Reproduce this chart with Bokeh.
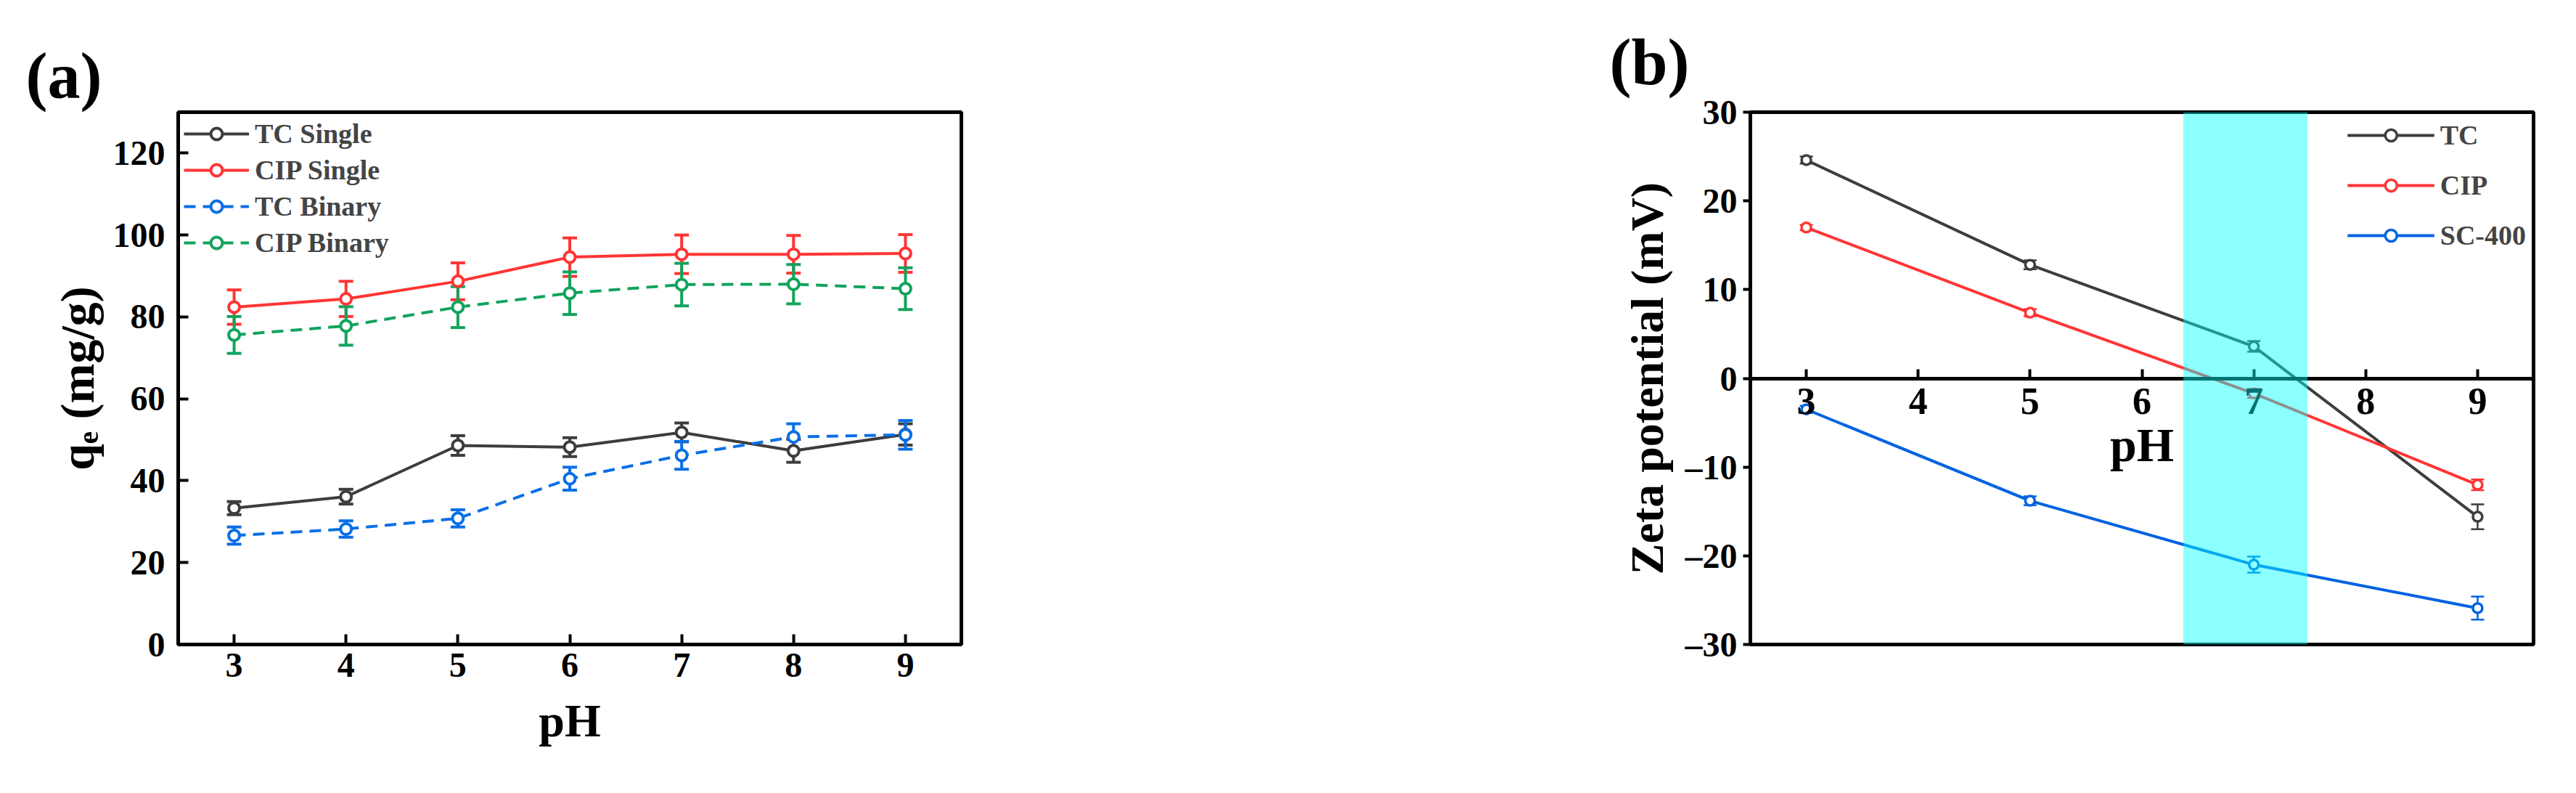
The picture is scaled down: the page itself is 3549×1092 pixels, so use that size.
from bokeh.plotting import figure
from bokeh.models import (Range1d, FixedTicker, Whisker, TeeHead, ColumnDataSource,
                          BoxAnnotation, Title)
from bokeh.layouts import row
from bokeh.embed import file_html
from bokeh.resources import INLINE

# ---------------- data: panel (a) ----------------
ph_a = [3, 4, 5, 6, 7, 8, 9]
tc_single = [33.3, 36.1, 48.6, 48.2, 51.8, 47.3, 51.3]
tc_single_err = [1.6, 1.8, 2.4, 2.3, 2.3, 2.8, 2.6]
cip_single = [82.4, 84.4, 88.7, 94.6, 95.3, 95.3, 95.5]
cip_single_err = [4.2, 4.3, 4.5, 4.7, 4.7, 4.6, 4.6]
tc_binary = [26.6, 28.2, 30.8, 40.5, 46.2, 50.7, 51.2]
tc_binary_err = [2.1, 2.0, 2.1, 2.8, 3.4, 3.2, 3.5]
cip_binary = [75.6, 77.8, 82.4, 85.8, 87.9, 88.0, 86.9]
cip_binary_err = [4.5, 4.7, 5.0, 5.2, 5.2, 4.8, 5.1]
a_xticks = [3, 4, 5, 6, 7, 8, 9]
a_xlabels = ["3", "4", "5", "6", "7", "8", "9"]
a_yticks = [0, 20, 40, 60, 80, 100, 120]
a_ylabels = ["0", "20", "40", "60", "80", "100", "120"]

# ---------------- data: panel (b) ----------------
ph_b = [3, 5, 7, 9]
zeta_tc = [24.6, 12.8, 3.6, -15.6]
zeta_tc_err = [0.4, 0.5, 0.6, 1.4]
zeta_cip = [17.0, 7.4, -1.7, -12.0]
zeta_cip_err = [0.3, 0.4, 0.5, 0.6]
zeta_sc = [-3.5, -13.8, -21.0, -25.9]
zeta_sc_err = [0.4, 0.5, 0.9, 1.3]
band_ph = [6.37, 7.48]
b_xticks = [3, 4, 5, 6, 7, 8, 9]
b_xlabels = ["3", "4", "5", "6", "7", "8", "9"]
b_yticks = [-30, -20, -10, 0, 10, 20, 30]
b_ylabels = ["\u201330", "\u201320", "\u201310", "0", "10", "20", "30"]

FONT = "Liberation Serif"
C_TC = "#3d3d3d"
C_CIP = "#ff3535"
C_TCB = "#0a6fe6"
C_CIPB = "#12a35c"
C_SC = "#0063e0"


def base_style(p):
    p.xgrid.visible = False
    p.ygrid.visible = False
    p.outline_line_color = "black"
    p.outline_line_width = 5
    p.outline_line_alpha = 1
    p.background_fill_color = "white"
    p.border_fill_color = "white"
    for ax in (p.xaxis[0], p.yaxis[0]):
        ax.axis_line_width = 5
        ax.axis_line_color = "black"
        ax.major_tick_line_width = 4
        ax.major_tick_line_color = "black"
        ax.minor_tick_line_color = None
        ax.major_label_text_font = FONT
        ax.major_label_text_font_style = "bold"
        ax.major_label_text_color = "black"
        ax.axis_label_text_font = FONT
        ax.axis_label_text_font_style = "bold"
        ax.axis_label_text_color = "black"


def add_err(p, x, y, e, color, lw, head):
    src = ColumnDataSource(dict(x=x, up=[v + d for v, d in zip(y, e)],
                                lo=[v - d for v, d in zip(y, e)]))
    w = Whisker(source=src, base="x", upper="up", lower="lo", dimension="height",
                line_color=color, line_width=lw,
                upper_head=TeeHead(size=head, line_color=color, line_width=lw),
                lower_head=TeeHead(size=head, line_color=color, line_width=lw))
    p.add_layout(w)


def panel_title(text, offset, standoff):
    return Title(text=text, align="left", offset=offset, standoff=standoff,
                 text_font=FONT, text_font_style="bold", text_font_size="90px",
                 text_color="black")


# ---------------- panel (a) ----------------
pa = figure(width=1424, height=1067, x_range=Range1d(2.5, 9.5), y_range=Range1d(0, 130),
            output_backend="svg", toolbar_location=None,
            title=panel_title("(a)", -210, 2),
            min_border_left=245, min_border_right=100, min_border_top=115, min_border_bottom=180)
base_style(pa)
pa.xaxis.ticker = FixedTicker(ticks=a_xticks)
pa.xaxis.major_label_overrides = dict(zip(a_xticks, a_xlabels))
pa.yaxis.ticker = FixedTicker(ticks=a_yticks)
pa.yaxis.major_label_overrides = dict(zip(a_yticks, a_ylabels))
pa.xaxis.major_tick_in = 14
pa.xaxis.major_tick_out = 0
pa.yaxis.major_tick_in = 14
pa.yaxis.major_tick_out = 0
pa.xaxis.major_label_text_font_size = "48px"
pa.yaxis.major_label_text_font_size = "48px"
pa.xaxis.major_label_standoff = 12
pa.yaxis.major_label_standoff = 18
pa.xaxis.axis_label = "pH"
pa.yaxis.axis_label = "q\u2091 (mg/g)"
pa.xaxis.axis_label_text_font_size = "64px"
pa.yaxis.axis_label_text_font_size = "66px"
pa.xaxis.axis_label_standoff = 22
pa.yaxis.axis_label_standoff = 10

series_a = [
    (tc_single, tc_single_err, C_TC, "solid", "TC Single"),
    (cip_single, cip_single_err, C_CIP, "solid", "CIP Single"),
    (tc_binary, tc_binary_err, C_TCB, "16 10", "TC Binary"),
    (cip_binary, cip_binary_err, C_CIPB, "16 10", "CIP Binary"),
]
for ys, es, col, dash, name in series_a:
    add_err(pa, ph_a, ys, es, col, 4, 20)
for ys, es, col, dash, name in series_a:
    pa.line(ph_a, ys, line_color=col, line_width=4, line_dash=dash, legend_label=name)
    pa.scatter(ph_a, ys, marker="circle", size=15, fill_color="white", line_color=col,
               line_width=4, legend_label=name)

lg = pa.legend[0]
lg.location = "top_left"
lg.border_line_alpha = 0
lg.background_fill_alpha = 0
lg.label_text_font = FONT
lg.label_text_font_style = "bold"
lg.label_text_font_size = "38px"
lg.glyph_width = 90
lg.glyph_height = 40
lg.label_height = 40
lg.spacing = 6
lg.padding = 8
lg.margin = 0
lg.label_standoff = 8

# ---------------- panel (b) ----------------
pb = figure(width=2106, height=1067, x_range=Range1d(2.5, 9.5), y_range=Range1d(-30, 30),
            output_backend="svg", toolbar_location=None,
            title=panel_title("(b)", -194, 40),
            min_border_left=987, min_border_right=40, min_border_top=154, min_border_bottom=151)
base_style(pb)
pb.xaxis.fixed_location = 0
pb.xaxis.ticker = FixedTicker(ticks=b_xticks)
pb.xaxis.major_label_overrides = dict(zip(b_xticks, b_xlabels))
pb.yaxis.ticker = FixedTicker(ticks=b_yticks)
pb.yaxis.major_label_overrides = dict(zip(b_yticks, b_ylabels))
pb.xaxis.major_tick_in = 13
pb.xaxis.major_tick_out = 0
pb.yaxis.major_tick_in = 0
pb.yaxis.major_tick_out = 10
pb.xaxis.major_label_text_font_size = "52px"
pb.yaxis.major_label_text_font_size = "48px"
pb.xaxis.major_label_standoff = 14
pb.yaxis.major_label_standoff = 8
pb.xaxis.axis_label = "pH"
pb.yaxis.axis_label = "Zeta potential (mV)"
pb.xaxis.axis_label_text_font_size = "66px"
pb.yaxis.axis_label_text_font_size = "64px"
pb.xaxis.axis_label_standoff = 2
pb.yaxis.axis_label_standoff = 14

series_b = [
    (zeta_tc, zeta_tc_err, C_TC, "TC"),
    (zeta_cip, zeta_cip_err, C_CIP, "CIP"),
    (zeta_sc, zeta_sc_err, C_SC, "SC-400"),
]
for ys, es, col, name in series_b:
    add_err(pb, ph_b, ys, es, col, 2.5, 18)
for ys, es, col, name in series_b:
    pb.line(ph_b, ys, line_color=col, line_width=4, legend_label=name)
    pb.scatter(ph_b, ys, marker="circle", size=13, fill_color="white", line_color=col,
               line_width=3.5, legend_label=name)

pb.add_layout(BoxAnnotation(left=band_ph[0], right=band_ph[1], fill_color="#00ffff",
                            fill_alpha=0.45, line_color=None))

lb = pb.legend[0]
lb.location = "top_right"
lb.border_line_alpha = 0
lb.background_fill_alpha = 0
lb.label_text_font = FONT
lb.label_text_font_style = "bold"
lb.label_text_font_size = "38px"
lb.glyph_width = 120
lb.glyph_height = 40
lb.label_height = 40
lb.spacing = 25
lb.padding = 10
lb.margin = 0
lb.label_standoff = 8

layout = row(pa, pb)
open("out.html", "w").write(file_html(layout, INLINE))
